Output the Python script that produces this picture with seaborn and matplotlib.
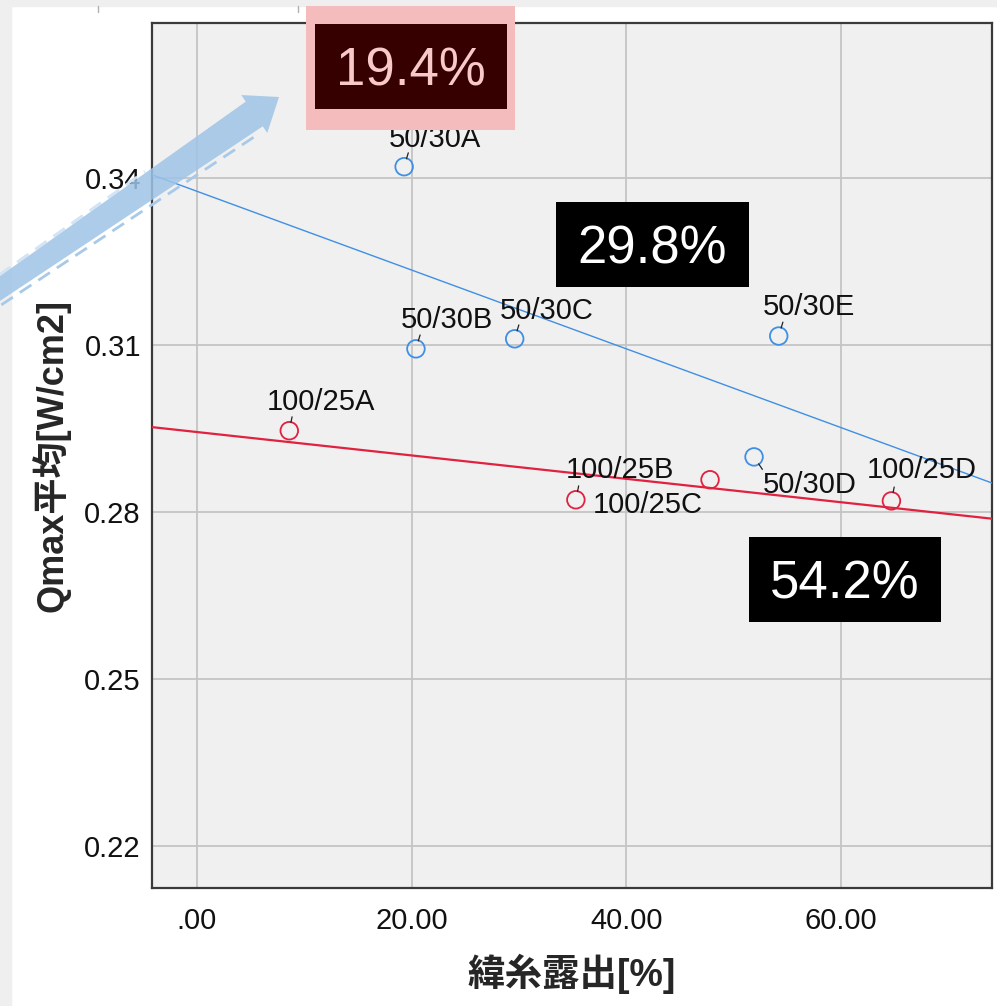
import matplotlib
matplotlib.use("Agg")
import matplotlib.pyplot as plt
from matplotlib.patches import Rectangle, Polygon
from matplotlib.lines import Line2D
import numpy as np
import pandas as pd
import seaborn as sns

# ---- data -------------------------------------------------------------
labels_5030 = ["50/30A", "50/30B", "50/30C", "50/30D", "50/30E"]
exposure_5030 = [19.3, 20.4, 29.6, 51.9, 54.2]
qmax_5030 = [0.3420, 0.3093, 0.3111, 0.2899, 0.3116]

labels_10025 = ["100/25A", "100/25B", "100/25C", "100/25D"]
exposure_10025 = [8.6, 47.8, 35.3, 64.7]
qmax_10025 = [0.2946, 0.2858, 0.2822, 0.2820]

x_ticks = [0, 20, 40, 60]
x_tick_labels = [".00", "20.00", "40.00", "60.00"]
y_ticks = [0.22, 0.25, 0.28, 0.31, 0.34]
y_tick_labels = ["0.22", "0.25", "0.28", "0.31", "0.34"]

share_labels = ["19.4%", "29.8%", "54.2%"]

# ---- style --------------------------------------------------------------
sns.set_theme(style="white")
plt.rcParams["font.family"] = ["Liberation Sans", "Noto Sans CJK JP", "DejaVu Sans"]

BLUE = "#3f8fe4"
RED = "#e0213f"

# label offsets (points) and leader-tick direction (points) per sample
label_offsets = {
    "50/30A": (22, 20), "50/30B": (22, 21), "50/30C": (23, 20),
    "50/30D": (40, -20), "50/30E": (22, 21),
    "100/25A": (23, 21), "100/25B": (-65, 7), "100/25C": (52, -4),
    "100/25D": (22, 22),
}
leader_dirs = {
    "50/30A": (3, 10), "50/30B": (3, 10), "50/30C": (3, 10),
    "50/30D": (6, -9), "50/30E": (3, 10),
    "100/25A": (2, 10), "100/25C": (2, 10), "100/25D": (2, 10),
}

W, H = 997, 1006
fig = plt.figure(figsize=(W / 100, H / 100), dpi=100)
fig.patch.set_facecolor("white")


def fx(px):
    return px / W


def fy(py):
    return 1 - py / H


# outer window frame strips
fig.add_artist(Rectangle((0, fy(6)), 1, 6 / H, transform=fig.transFigure,
                         color="#efefef", zorder=0))
fig.add_artist(Rectangle((0, 0), fx(11), 1, transform=fig.transFigure,
                         color="#efefef", zorder=0))
for tx in (98, 298):
    fig.add_artist(Line2D([fx(tx), fx(tx)], [fy(6), fy(12)],
                          transform=fig.transFigure, color="#b0b0b0", lw=1))

ax = fig.add_axes([fx(152), fy(888), 840 / W, 865 / H])
ax.set_facecolor("#f0f0f0")
ax.set_xlim(-4.19, 74.07)
ax.set_ylim(0.2125, 0.3678)

df5030 = pd.DataFrame({"x": exposure_5030, "y": qmax_5030, "label": labels_5030})
df10025 = pd.DataFrame({"x": exposure_10025, "y": qmax_10025, "label": labels_10025})

for df, col, lw in ((df5030, BLUE, 1.0), (df10025, RED, 1.6)):
    sns.regplot(data=df, x="x", y="y", ax=ax, ci=None, truncate=False,
                color=col, marker="o",
                scatter_kws=dict(facecolors="none", edgecolors=col, s=160,
                                 linewidths=1.3, alpha=1, zorder=4),
                line_kws=dict(lw=lw, zorder=3))

for df in (df5030, df10025):
    for _, r in df.iterrows():
        dx, dy = label_offsets[r["label"]]
        ax.annotate(r["label"], xy=(r["x"], r["y"]), xytext=(dx, dy),
                    textcoords="offset points", ha="center", va="center",
                    fontsize=21, color="#111111", zorder=5)
        if r["label"] in leader_dirs:
            lx, ly = leader_dirs[r["label"]]
            ax.annotate("", xy=(r["x"], r["y"]), xytext=(lx, ly),
                        textcoords="offset points",
                        arrowprops=dict(arrowstyle="-", color="#222222", lw=0.9,
                                        shrinkA=0, shrinkB=6), zorder=5)

ax.set_xticks(x_ticks)
ax.set_xticklabels(x_tick_labels)
ax.set_yticks(y_ticks)
ax.set_yticklabels(y_tick_labels)
ax.tick_params(axis="both", length=0, labelsize=21, colors="#111111")
ax.tick_params(axis="x", pad=14)
ax.tick_params(axis="y", pad=8)
ax.grid(True, color="#c4c4c4", lw=1.3)
ax.set_axisbelow(True)
for s in ax.spines.values():
    s.set_visible(True)
    s.set_color("#3a3a3a")
    s.set_linewidth(1.6)

ax.set_xlabel("緯糸露出[%]", fontsize=27, fontweight="bold", labelpad=13)
ax.set_ylabel("Qmax平均[W/cm2]", fontsize=26, fontweight="bold", labelpad=10)

# ---- share callouts ------------------------------------------------------
def callout(x0, y0, x1, y1, text, face, tcolor):
    fig.add_artist(Rectangle((fx(x0), fy(y1)), (x1 - x0) / W, (y1 - y0) / H,
                             transform=fig.transFigure, facecolor=face,
                             edgecolor="none", zorder=6))
    fig.text(fx((x0 + x1) / 2), fy((y0 + y1) / 2 + 5), text, ha="center",
             va="center", fontsize=38, color=tcolor, zorder=7)


fig.add_artist(Rectangle((fx(306), fy(130)), 209 / W, 124 / H,
                         transform=fig.transFigure, facecolor="#f4bcbc",
                         edgecolor="none", zorder=5))
callout(315, 24, 507, 109, share_labels[0], "#370000", "#f7c9c9")
callout(556, 202, 749, 287, share_labels[1], "black", "white")
callout(749, 537, 941, 622, share_labels[2], "black", "white")

# ---- pointer arrow (tapered body, in figure pixels) ----------------------
tip = np.array([279.0, 97.0])
u = np.array([1.0, -0.687])
u /= np.hypot(*u)
n = np.array([-u[1], u[0]])  # normal pointing down-right (pixel y grows down)
head_len, head_hw = 30.0, 23.0
base = tip - head_len * u
tail = tip - (tip[0] + 12) / u[0] * u
hw_tail, hw_base = 10.0, 15.0

poly_px = [tail - hw_tail * n, base - hw_base * n, base - head_hw * n, tip,
           base + head_hw * n, base + hw_base * n, tail + hw_tail * n]
poly_fig = [(fx(p[0]), fy(p[1])) for p in poly_px]
fig.add_artist(Polygon(poly_fig, closed=True, transform=fig.transFigure,
                       facecolor="#9ec4e6", edgecolor="none", alpha=0.85,
                       zorder=9))


def edge_line(s0, s1, side, gap):
    s = np.linspace(s0, s1, 20)
    pts = []
    for si in s:
        c = tail + si * (base - tail)
        hw = hw_tail + si * (hw_base - hw_tail)
        pts.append(c + side * (hw + gap) * n)
    pts = np.array(pts)
    return [fx(p) for p in pts[:, 0]], [fy(p) for p in pts[:, 1]]


xs, ys = edge_line(0.02, 0.62, -1, 1.5)
fig.add_artist(Line2D(xs, ys, transform=fig.transFigure, color="#d2e4f5",
                      lw=2, ls=(0, (5, 3)), zorder=8))
xs, ys = edge_line(0.02, 0.97, 1, 4.0)
fig.add_artist(Line2D(xs, ys, transform=fig.transFigure, color="#a9c9e8",
                      lw=2, ls=(0, (5, 3)), zorder=8))

fig.savefig("out.png", dpi=100, facecolor=fig.get_facecolor())
